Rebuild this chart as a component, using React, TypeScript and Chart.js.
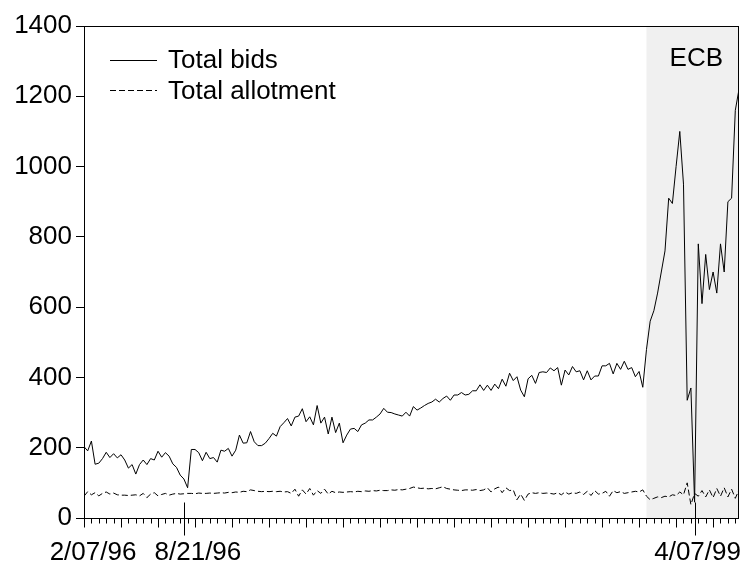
import React, { useEffect, useRef } from "react";
import { Chart, registerables } from "chart.js";

Chart.register(...registerables);

// Total bids, one value per tender (index 0 = 2/07/96)
const bids: number[] = [
  203, 191, 219, 153, 156, 169, 187, 172, 183, 171,
  180, 165, 142, 152, 125, 152, 165, 152, 169, 165,
  190, 173, 186, 176, 154, 144, 122, 111, 86, 195,
  195, 186, 163, 187, 169, 172, 159, 193, 190, 198,
  176, 193, 236, 213, 214, 246, 217, 206, 206, 213,
  226, 241, 233, 260, 271,
  283, 262, 287, 290, 311, 274, 288, 265, 320, 270,
  287, 239, 287, 243, 270, 214, 236, 253, 255, 246,
  265, 270, 279, 279, 287, 296, 312, 301, 300, 296,
  293, 290, 301, 290, 317, 307, 313, 320, 326, 330,
  338, 330, 340, 347, 335, 350, 350, 357, 350, 352,
  362, 362, 379,
  363, 378, 363, 381, 368, 395, 375, 412, 391, 402,
  364, 345, 396, 406, 383, 414, 416, 414, 427, 419,
  428, 378, 421, 407, 431, 416, 419, 393, 419, 393,
  404, 404, 433, 433, 440, 410, 440, 423, 446, 423,
  428, 402, 417, 372,
  480, 560, 590, 640, 700, 760, 910, 895, 1000, 1100,
  950, 335, 370, 45,
  780, 610, 750, 650, 700, 640, 780, 700, 900, 910,
  1160, 1220,
];

// Total allotment
const allotment: number[] = [
  62, 75, 66, 72, 63, 70, 74, 68, 71, 66,
  65, 65, 64, 65, 66, 63, 70, 58, 68, 72,
  63, 67, 70, 65, 68, 70, 68, 69,
  70, 70, 69, 71, 70, 70, 71, 70, 71, 72,
  71, 73, 72, 74, 73, 76, 75, 80, 78, 76,
  75, 76, 75, 76, 75, 76, 74,
  75, 70, 82, 62, 80, 68, 84, 65, 78, 70, 82, 68, 76, 72, 74, 73,
  74, 75, 74, 76, 75, 77, 76, 78, 77, 79,
  78, 78, 80, 79, 81, 80, 82, 84, 88, 86,
  84, 85, 83, 84, 83,
  86, 89, 84, 82, 80, 79, 78, 80, 80, 79,
  81, 78, 80, 86, 74, 83, 88, 72, 86, 78,
  80, 52, 68, 50, 68, 72,
  70, 72, 70, 71, 70, 68, 72, 66, 74, 68,
  72, 70, 74, 67, 76, 64, 78, 68, 70, 76,
  62, 78, 72, 75, 70, 72, 74, 76, 74, 80,
  62, 52, 56, 60, 58, 62, 60, 66, 64, 74,
  66, 100, 38, 70,
  62, 78, 60, 80, 58, 84, 62, 86, 60, 82,
  56, 80,
];

const seriesNames = ["Total bids", "Total allotment"];
const dateLabels = ["2/07/96", "8/21/96", "4/07/99"];
const dateLabelIndex = [0, 27, 165];
const ecbStartIndex = 152;
const shadeLabel = "ECB";
const yMin = 0;
const yMax = 1400;
const yStep = 200;

const FONT = '"Liberation Sans", Arial, Helvetica, sans-serif';

export default function App() {
  const ref = useRef<HTMLCanvasElement>(null);

  useEffect(() => {
    const canvas = ref.current;
    if (!canvas) return;
    const n = bids.length;

    const evPlugin = {
      id: "evPlugin",
      beforeDatasetsDraw(chart: any) {
        const { ctx, chartArea: a, scales } = chart;
        const xs = scales.x;
        const x0 = xs.getPixelForValue(ecbStartIndex);
        ctx.save();
        ctx.fillStyle = "#f0f0f0";
        ctx.fillRect(x0, a.top, a.right - x0, a.bottom - a.top);
        ctx.restore();
      },
      afterDraw(chart: any) {
        const { ctx, chartArea: a, scales } = chart;
        const xs = scales.x;
        ctx.save();
        // frame
        ctx.strokeStyle = "#000";
        ctx.lineWidth = 1;
        const L = Math.round(a.left) + 0.5;
        const T = Math.round(a.top) + 0.5;
        const R = Math.round(a.right) - 0.5;
        const B = Math.round(a.bottom) + 0.5;
        ctx.strokeRect(L, T, R - L, B - T);
        // x ticks
        ctx.beginPath();
        for (let i = 0; i < n; i += 2) {
          const px = Math.round(xs.getPixelForValue(i)) + 0.5;
          const len = i % 10 === 0 ? 9 : 5;
          ctx.moveTo(px, B);
          ctx.lineTo(px, B + len);
        }
        ctx.stroke();
        // labelled ticks
        ctx.beginPath();
        dateLabelIndex.forEach((idx, k) => {
          if (k === 0) return;
          const px = Math.round(xs.getPixelForValue(idx)) + 0.5;
          ctx.moveTo(px, B - 16);
          ctx.lineTo(px, B + 17);
        });
        ctx.stroke();
        // x labels
        ctx.fillStyle = "#000";
        ctx.font = `26px ${FONT}`;
        ctx.textAlign = "center";
        ctx.textBaseline = "alphabetic";
        const dx = [9, 14, 3];
        dateLabels.forEach((t, k) => {
          const px = xs.getPixelForValue(dateLabelIndex[k]) + dx[k];
          ctx.fillText(t, px, 560);
        });
        // legend
        ctx.textAlign = "left";
        const lx0 = a.left + 26;
        const lx1 = a.left + 73;
        const rows = [a.top + 34, a.top + 64];
        ctx.beginPath();
        ctx.moveTo(lx0, rows[0] + 0.5);
        ctx.lineTo(lx1, rows[0] + 0.5);
        ctx.stroke();
        ctx.setLineDash([6, 3]);
        ctx.beginPath();
        ctx.moveTo(lx0, rows[1] + 0.5);
        ctx.lineTo(lx1, rows[1] + 0.5);
        ctx.stroke();
        ctx.setLineDash([]);
        ctx.fillText(seriesNames[0], a.left + 84, rows[0] + 8);
        ctx.fillText(seriesNames[1], a.left + 84, rows[1] + 9);
        // ECB label
        ctx.textAlign = "right";
        ctx.fillText(shadeLabel, a.right - 16, a.top + 40);
        ctx.restore();
      },
    };

    const chart = new Chart(canvas, {
      type: "line",
      data: {
        datasets: [
          {
            label: seriesNames[0],
            data: bids.map((v, i) => ({ x: i, y: v })),
            borderColor: "#000",
            borderWidth: 1,
            pointRadius: 0,
            tension: 0,
          },
          {
            label: seriesNames[1],
            data: allotment.map((v, i) => ({ x: i, y: v })),
            borderColor: "#000",
            borderWidth: 1,
            borderDash: [6, 3],
            pointRadius: 0,
            tension: 0,
          },
        ],
      },
      options: {
        animation: false,
        responsive: false,
        devicePixelRatio: 1,
        layout: { padding: { top: 26, right: 7, left: 0, bottom: 0 } },
        plugins: {
          legend: { display: false },
          tooltip: { enabled: false },
        },
        scales: {
          x: {
            type: "linear",
            min: 0,
            max: n - 1,
            ticks: { display: false },
            grid: { display: false },
            border: { display: false },
            afterFit: (s: any) => {
              s.height = 51;
            },
          },
          y: {
            min: yMin,
            max: yMax,
            ticks: {
              stepSize: yStep,
              color: "#000",
              padding: 4,
              font: { family: FONT, size: 26 },
              callback: (v: any) => String(v),
            },
            grid: {
              drawOnChartArea: false,
              tickLength: 8,
              tickColor: "#000",
            },
            border: { display: false },
            afterFit: (s: any) => {
              s.width = 84;
            },
          },
        },
      },
      plugins: [evPlugin],
    });

    return () => chart.destroy();
  }, []);

  return (
    <div style={{ position: "fixed", left: 0, top: 0, width: 746, height: 569, background: "#fff" }}>
      <canvas ref={ref} width={746} height={569} style={{ display: "block" }} />
    </div>
  );
}
